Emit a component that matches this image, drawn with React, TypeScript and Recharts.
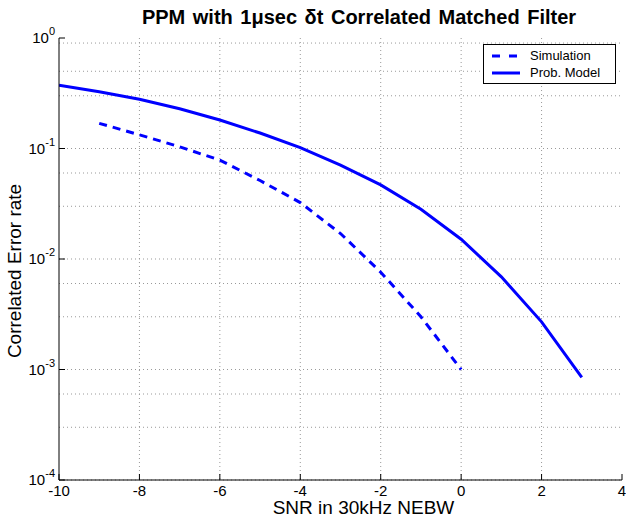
import React from "react";
import { LineChart, Line, XAxis, YAxis, CartesianGrid, Legend } from "recharts";

// SNR (dB) sample points
const snr = [-10, -9, -8, -7, -6, -5, -4, -3, -2, -1, 0, 1, 2, 3];
// correlated error rate
const simulation = [null, 0.169, 0.133, 0.1035, 0.0785, 0.0513, 0.0324, 0.017, 0.0076, 0.003, 0.001, null, null, null];
const probModel = [0.374, 0.326, 0.279, 0.229, 0.181, 0.138, 0.102, 0.0708, 0.0468, 0.0282, 0.0151, 0.0069, 0.0027, 0.00085];

const xTicks = [-10, -8, -6, -4, -2, 0, 2, 4];
const xGrid = [-8, -6, -4, -2, 0, 2];
const yTicks = [1e-4, 1e-3, 1e-2, 1e-1, 1];
const yExponents = ["-4", "-3", "-2", "-1", "0"];
const minorMults = [1, 2, 3, 4, 5, 6, 7, 8, 9];

const yGrid: number[] = [];
yTicks.slice(0, 4).forEach((d) => minorMults.forEach((m) => yGrid.push(d * m)));

const data = snr.map((x, i) => ({ snr: x, sim: simulation[i], model: probModel[i] }));

const legendItems = [
  { name: "Simulation", dash: "8 9" },
  { name: "Prob. Model", dash: undefined },
];

const FONT = "'Liberation Sans', Arial, Helvetica, sans-serif";

const BottomTick = (props: any) => {
  const { x, y, payload } = props;
  return (
    <g>
      <line x1={x} y1={y} x2={x} y2={y - 6} stroke="#000" />
      <text x={x} y={y + 16} textAnchor="middle" fontSize={15} fontFamily={FONT} fill="#000">
        {payload.value}
      </text>
    </g>
  );
};

const TopTick = (props: any) => {
  const { x, y } = props;
  return <line x1={x} y1={y} x2={x} y2={y + 6} stroke="#000" />;
};

const LeftTick = (props: any) => {
  const { x, y, index } = props;
  return (
    <g>
      <line x1={x} y1={y} x2={x + 6} y2={y} stroke="#000" />
      <text x={x - 4} y={y + 5} textAnchor="end" fontSize={15} fontFamily={FONT} fill="#000">
        10
        <tspan dy={-8} fontSize={11}>{yExponents[index] ?? ""}</tspan>
      </text>
    </g>
  );
};

const RightTick = (props: any) => {
  const { x, y } = props;
  return <line x1={x} y1={y} x2={x - 6} y2={y} stroke="#000" />;
};

const LegendBox = () => (
  <div
    style={{
      border: "1px solid #000",
      background: "#fff",
      padding: "2px 4px 2px 6px",
      fontSize: 13,
      fontFamily: FONT,
      lineHeight: "17px",
      boxSizing: "border-box",
    }}
  >
    {legendItems.map((s) => (
      <div key={s.name} style={{ display: "flex", alignItems: "center" }}>
        <svg width={38} height={10} style={{ marginRight: 2 }}>
          <line x1={2} y1={5} x2={30} y2={5} stroke="#0000ff" strokeWidth={3} strokeDasharray={s.dash} />
        </svg>
        <span>{s.name}</span>
      </div>
    ))}
  </div>
);

export default function App() {
  return (
    <div style={{ position: "absolute", left: 0, top: 0, width: 626, height: 519, background: "#fff" }}>
      <LineChart width={626} height={519} data={data} margin={{ top: 38, right: 4, bottom: 0, left: 0 }}>
        <text x={359} y={24} textAnchor="middle" fontSize={20} fontWeight="bold" fontFamily={FONT} fill="#000" style={{ wordSpacing: 2 }}>
          PPM with 1μsec δt Correlated Matched Filter
        </text>
        <CartesianGrid
          horizontalValues={yGrid}
          verticalValues={xGrid}
          stroke="#999"
          strokeDasharray="1 3"
        />
        <XAxis
          dataKey="snr"
          type="number"
          domain={[-10, 4]}
          ticks={xTicks}
          allowDataOverflow
          height={39}
          tickSize={0}
          tickMargin={0}
          tick={<BottomTick />}
          axisLine={{ stroke: "#000" }}
          label={{ value: "SNR in 30kHz NEBW", position: "insideBottom", dx: 23, offset: 5, fontSize: 19, fontFamily: FONT, fill: "#000" }}
        />
        <XAxis
          xAxisId="top"
          orientation="top"
          dataKey="snr"
          type="number"
          domain={[-10, 4]}
          ticks={xTicks}
          allowDataOverflow
          height={0}
          tickSize={0}
          tickMargin={0}
          tick={<TopTick />}
          axisLine={{ stroke: "#000" }}
        />
        <YAxis
          scale="log"
          type="number"
          domain={[1e-4, 1]}
          ticks={yTicks}
          allowDataOverflow
          width={59}
          tickSize={0}
          tickMargin={0}
          tick={<LeftTick />}
          axisLine={{ stroke: "#000" }}
          label={{ value: "Correlated Error rate", angle: -90, position: "insideLeft", dx: 9, dy: 12, fontSize: 19, fontFamily: FONT, fill: "#000", style: { textAnchor: "middle" } }}
        />
        <YAxis
          yAxisId="right"
          orientation="right"
          scale="log"
          type="number"
          domain={[1e-4, 1]}
          ticks={yTicks}
          allowDataOverflow
          width={0}
          tickSize={0}
          tickMargin={0}
          tick={<RightTick />}
          axisLine={{ stroke: "#000" }}
        />
        <Legend
          layout="horizontal"
          verticalAlign="middle"
          align="center"
          content={<LegendBox />}
          wrapperStyle={{ left: 483, top: 44, width: 133, right: "auto", bottom: "auto" }}
        />
        <Line
          type="linear"
          dataKey="sim"
          stroke="#0000ff"
          strokeWidth={3}
          strokeDasharray="8 6"
          dot={false}
          isAnimationActive={false}
          name="Simulation"
        />
        <Line
          type="linear"
          dataKey="model"
          stroke="#0000ff"
          strokeWidth={3}
          dot={false}
          isAnimationActive={false}
          name="Prob. Model"
        />
      </LineChart>
    </div>
  );
}
